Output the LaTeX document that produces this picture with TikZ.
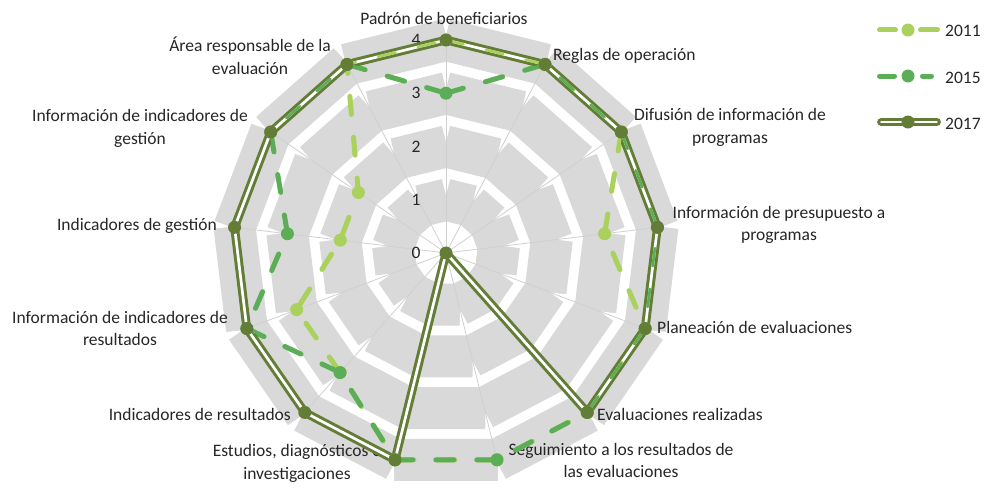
\documentclass[tikz,border=0pt]{standalone}
\usepackage{fontspec}
\setmainfont{Carlito}
\usetikzlibrary{calc}
\definecolor{gridgrey}{HTML}{D9D9D9}
\definecolor{axisgrey}{HTML}{D0D0D0}
\definecolor{cA}{HTML}{A9D15B}
\definecolor{cB}{HTML}{5BAE55}
\definecolor{cC}{HTML}{637D36}
\definecolor{txt}{HTML}{262626}
\begin{document}
\begin{tikzpicture}[x=1pt,y=1pt,
  lbl/.style={font=\fontsize{17.5}{22.5}\selectfont, text=txt, inner sep=0pt, align=center},
  ring/.style={draw=gridgrey, line width=42pt, line join=miter},
  notchfill/.style={fill=white},
  axisline/.style={draw=axisgrey, line width=0.8pt},
  dashA/.style={draw=cA, line width=5pt, line cap=round, line join=round, dash pattern=on 18pt off 23pt},
  dashB/.style={draw=cB, line width=5pt, line cap=round, line join=round, dash pattern=on 18pt off 23pt},
  thinline/.style={line width=2.7pt},
  dbl/.style={draw=cC, line width=3pt, double=white, double distance=2.7pt, line join=round, line cap=round},
  mkA/.style={fill=cA}, mkB/.style={fill=cB}, mkC/.style={fill=cC},
  legA/.style={draw=cA, line width=5pt, line cap=round},
  legB/.style={draw=cB, line width=5pt, line cap=round},
]
\useasboundingbox (0,0) rectangle (987,-487);
\coordinate (C) at (446,-253);
\pgfmathsetmacro{\U}{53.25}
\pgfmathsetmacro{\A}{360/13}

\begin{scope}[shift={(446,-253)}]
  % grey rings
  \foreach \R in {1,2,3,4}{
    \draw[ring] (90:{\R*\U}) \foreach \k in {1,...,12}{ -- ({90-\k*\A}:{\R*\U}) } -- cycle;
  }
  % white notches at the vertices
  \foreach \R in {1,2,3,4}{
    \foreach \k in {0,...,12}{
      \begin{scope}[rotate={90-\k*\A}]
        \fill[notchfill] ({\R*\U+5},0) -- ({\R*\U+30},6.5) -- ({\R*\U+30},-6.5) -- cycle;
      \end{scope}
    }
  }
  % axes
  \foreach \k in {0,...,12}{
    \coordinate (ax\k) at ({90-\k*\A}:213);
    \draw[axisline] (C) -- (ax\k);
  }
  % data points
  \foreach \k/\v in {0/4,1/4,2/4,3/3,4/4,5/4,6/4,7/4,8/3,9/3,10/2,11/2,12/4}{
    \coordinate (a\k) at ({90-\k*\A}:{\v*\U});
  }
  \foreach \k/\v in {0/3,1/4,2/4,3/4,4/4,5/4,6/4,7/4,8/3,9/4,10/3,11/4,12/4}{
    \coordinate (b\k) at ({90-\k*\A}:{\v*\U});
  }
  \foreach \k/\v in {0/4,1/4,2/4,3/4,4/4,5/4,6/0,7/4,8/4,9/4,10/4,11/4,12/4}{
    \coordinate (c\k) at ({90-\k*\A}:{\v*\U});
  }
\end{scope}

% value labels
\foreach \v in {0,1,2,3,4}{
  \node[lbl, anchor=center] (val\v) at (416,{-253+\v*\U}) {\v};
}

% category labels (base anchor = baseline of the last line)
\node[lbl, anchor=base] (lPadron) at (444,-25) {Padrón de beneficiarios};
\node[lbl, anchor=base west] (lReglas) at (553,-60) {Reglas de operación};
\node[lbl, anchor=base] (lDifusion) at (730,-143.2) {Difusión de información de\\programas};
\node[lbl, anchor=base] (lPresup) at (779,-240.5) {Información de presupuesto a\\programas};
\node[lbl, anchor=base west] (lPlan) at (657,-333) {Planeación de evaluaciones};
\node[lbl, anchor=base west] (lEvalR) at (597,-420) {Evaluaciones realizadas};
\node[lbl, anchor=base] (lSeg) at (621,-477.5) {Seguimiento a los resultados de\\las evaluaciones};
\node[lbl, anchor=base] (lEst) at (297,-479.2) {Estudios, diagnósticos e\\investigaciones};
\node[lbl, anchor=base east] (lIndRes) at (291,-420) {Indicadores de resultados};
\node[lbl, anchor=base] (lInfoRes) at (120,-345.8) {Información de indicadores de\\resultados};
\node[lbl, anchor=base east] (lIndGes) at (217,-230) {Indicadores de gestión};
\node[lbl, anchor=base] (lInfoGes) at (140,-144.2) {Información de indicadores de\\gestión};
\node[lbl, anchor=base] (lArea) at (250,-74.2) {Área responsable de la\\evaluación};

% series lines
\draw[dashA] (a0) \foreach \k in {1,...,12}{ -- (a\k) } -- cycle;
\draw[dashB] (b0) \foreach \k in {1,...,12}{ -- (b\k) } -- cycle;
\draw[dbl] (c0) \foreach \k in {1,...,12}{ -- (c\k) } -- cycle;

% dashes seen through the open core of the 2017 double line
\begin{scope}[shift={(446,-253)}]
  \clip ({90-7*\A}:223) \foreach \k in {8,...,18}{ -- ({90-\k*\A}:223) }
        \foreach \k in {18,17,...,7}{ -- ({90-\k*\A}:203) } -- cycle;
  \draw[dashA, thinline] (a0) \foreach \k in {1,...,12}{ -- (a\k) } -- cycle;
  \draw[dashB, thinline] (b0) \foreach \k in {1,...,12}{ -- (b\k) } -- cycle;
\end{scope}

% markers
\foreach \k in {0,...,12}{ \fill[mkA] (a\k) circle (6.5); }
\foreach \k in {0,...,12}{ \fill[mkB] (b\k) circle (6.5); }
\foreach \k in {0,...,12}{ \fill[mkC] (c\k) circle (6.5); }

% legend
\coordinate (la1) at (879.5,-30); \coordinate (la2) at (895.5,-30);
\coordinate (la3) at (920.5,-30); \coordinate (la4) at (937.5,-30);
\coordinate (lam) at (908,-30);
\draw[legA] (la1) -- (la2); \draw[legA] (la3) -- (la4);
\fill[mkA] (lam) circle (6.5);
\node[lbl, anchor=base west] (t2011) at (945,-36.7) {2011};

\coordinate (lb1) at (879.5,-76); \coordinate (lb2) at (894.5,-76);
\coordinate (lb3) at (922.5,-76); \coordinate (lb4) at (931.5,-76);
\coordinate (lbm) at (908,-76);
\draw[legB] (lb1) -- (lb2); \draw[legB] (lb3) -- (lb4);
\fill[mkB] (lbm) circle (6.5);
\node[lbl, anchor=base west] (t2015) at (945,-83.3) {2015};

\coordinate (lc1) at (881.4,-122); \coordinate (lc2) at (936.6,-122);
\coordinate (lcm) at (908,-122);
\draw[dbl] (lc1) -- (lc2);
\fill[mkC] (lcm) circle (6.5);
\node[lbl, anchor=base west] (t2017) at (945,-129.3) {2017};
\end{tikzpicture}
\end{document}
